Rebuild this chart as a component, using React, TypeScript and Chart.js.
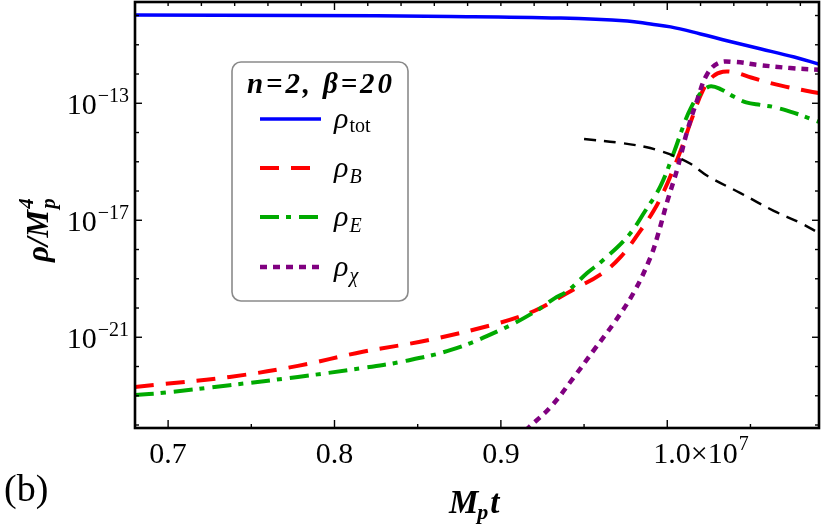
import React, { useEffect, useRef } from 'react';
import { Chart, registerables } from 'chart.js';

Chart.register(...registerables);

// ---- data (x in units of 10^7 M_p t) ----
const tTot = [0.680, 0.780, 0.870, 0.936, 0.976, 0.990, 1.002, 1.020, 1.0365, 1.0564, 1.0763, 1.091];
const rhoTot = [1.045e-10, 1.005e-10, 9.3e-11, 8.2e-11, 6.5e-11, 5.1e-11, 4.1e-11, 2.34e-11, 1.35e-11, 7.2e-12, 3.8e-12, 2.2e-12];

const tB = [0.680, 0.697, 0.737, 0.778, 0.817, 0.856, 0.900, 0.920, 0.932, 0.944, 0.960, 0.972, 0.984, 0.992, 0.998, 1.004, 1.0095, 1.0143, 1.0215, 1.0275, 1.0335, 1.0414, 1.0504, 1.0685, 1.091];
const rhoB = [2.0e-23, 2.5e-23, 4.4e-23, 1.05e-22, 3.2e-22, 7.9e-22, 3.2e-21, 7.9e-21, 1.8e-20, 4.4e-20, 1.41e-19, 5.6e-19, 4.5e-18, 2.2e-17, 1.0e-16, 6.3e-16, 4.0e-15, 2.5e-14, 2.8e-13, 8.3e-13, 1.2e-12, 1.1e-12, 7.6e-13, 4.0e-13, 2.24e-13];

const tE = [0.680, 0.697, 0.737, 0.778, 0.817, 0.840, 0.870, 0.900, 0.920, 0.932, 0.940, 0.952, 0.960, 0.976, 0.987, 0.996, 1.004, 1.011, 1.0143, 1.0174, 1.0222, 1.0263, 1.0323, 1.0402, 1.0474, 1.0564, 1.0642, 1.0763, 1.0913];
const rhoE = [1.07e-23, 1.26e-23, 2.3e-23, 4.4e-23, 8.9e-23, 1.45e-22, 3.7e-22, 1.8e-21, 7.2e-21, 2.1e-20, 3.8e-20, 1.6e-19, 3.7e-19, 2.7e-18, 2.2e-17, 1.5e-16, 2.1e-15, 2.7e-14, 7.1e-14, 1.41e-13, 2.9e-13, 3.8e-13, 3.0e-13, 1.66e-13, 1.07e-13, 8.7e-14, 7.4e-14, 4.7e-14, 2.3e-14];

const tChi = [0.909, 0.917, 0.930, 0.944, 0.956, 0.968, 0.980, 0.990, 0.9944, 1.000, 1.006, 1.012, 1.018, 1.024, 1.031, 1.040, 1.055, 1.074, 1.091];
const rhoChi = [3.1e-25, 8.5e-25, 4.2e-24, 4.4e-23, 3.7e-22, 3.1e-21, 3.5e-20, 5.6e-19, 3.2e-18, 4.4e-17, 5.6e-16, 1.12e-14, 1.3e-13, 1.0e-12, 2.4e-12, 2.6e-12, 2.04e-12, 1.6e-12, 1.4e-12];

const tRef = [0.950, 0.972, 0.987, 0.996, 1.004, 1.014, 1.0245, 1.044, 1.064, 1.080, 1.091];
const rhoRef = [6.0e-15, 4.4e-15, 3.2e-15, 2.3e-15, 1.6e-15, 8.5e-16, 3.2e-16, 8.5e-17, 2.1e-17, 8.1e-18, 3.7e-18];

// ---- axes ----
const xMin = 0.6801;
const xMax = 1.0912;
const yMin = 7.9e-25;
const yMax = 2.9e-10;
const xMajorTicks = [0.7, 0.8, 0.9, 1.0];
const xTickLabels = ['0.7', '0.8', '0.9', '1.0×10'];
const xMinorTicks = [0.75, 0.85, 0.95, 1.05];
const xTopTicks = [0.70, 0.72, 0.74, 0.76, 0.78, 0.80, 0.82, 0.84, 0.86, 0.88, 0.90, 0.92, 0.94, 0.96, 0.98, 1.00, 1.02, 1.04, 1.06, 1.08];
const xTopMajor = [0.8, 1.0];
const yMajorExp = [-13, -17, -21];
const yMinorExp = [-10, -11, -12, -14, -15, -16, -18, -19, -20, -22, -23, -24];

const legendTitle = 'n=2, β=20';
const seriesNames = ['tot', 'B', 'E', 'χ'];

const SERIF = '"Liberation Serif", "DejaVu Serif", serif';

const pts = (xs: number[], ys: number[]) => xs.map((x, i) => ({ x, y: ys[i] }));

const App: React.FC = () => {
  const ref = useRef<HTMLCanvasElement | null>(null);

  useEffect(() => {
    document.body.style.margin = '0';
    const canvas = ref.current;
    if (!canvas) return;

    const styles = [
      { color: '#0000ff', width: 3.5, dash: [] as number[] },
      { color: '#ff0000', width: 4, dash: [19, 12] },
      { color: '#00aa00', width: 4, dash: [19, 7, 5, 8] },
      { color: '#800080', width: 4.5, dash: [7, 6] },
    ];

    const decor = {
      id: 'decor',
      afterDraw(chart: any) {
        const { ctx, chartArea: a, scales } = chart;
        const x = scales.x;
        const y = scales.y;
        ctx.save();
        // frame
        ctx.strokeStyle = '#000';
        ctx.lineWidth = 2.6;
        ctx.setLineDash([]);
        ctx.strokeRect(a.left, a.top, a.right - a.left, a.bottom - a.top);
        ctx.lineWidth = 1.4;
        const line = (x1: number, y1: number, x2: number, y2: number) => {
          ctx.beginPath();
          ctx.moveTo(x1, y1);
          ctx.lineTo(x2, y2);
          ctx.stroke();
        };
        xMajorTicks.forEach((v) => { const p = x.getPixelForValue(v); line(p, a.bottom, p, a.bottom - 8); });
        xMinorTicks.forEach((v) => { const p = x.getPixelForValue(v); line(p, a.bottom, p, a.bottom - 4); });
        xTopTicks.forEach((v) => {
          const p = x.getPixelForValue(v);
          const major = xTopMajor.some((m) => Math.abs(m - v) < 1e-6);
          line(p, a.top, p, a.top + (major ? 8 : 4));
        });
        yMajorExp.forEach((e) => {
          const p = y.getPixelForValue(Math.pow(10, e));
          line(a.left, p, a.left + 7, p);
          line(a.right, p, a.right - 7, p);
        });
        yMinorExp.forEach((e) => {
          const p = y.getPixelForValue(Math.pow(10, e));
          line(a.left, p, a.left + 4, p);
          line(a.right, p, a.right - 4, p);
        });

        // x tick labels
        ctx.fillStyle = '#000';
        ctx.textBaseline = 'alphabetic';
        xMajorTicks.forEach((v, i) => {
          const p = x.getPixelForValue(v);
          const lab = xTickLabels[i];
          if (i === xMajorTicks.length - 1) {
            ctx.textAlign = 'left';
            ctx.font = `30px ${SERIF}`;
            const w = ctx.measureText(lab).width;
            const x0 = p - 14;
            ctx.fillText(lab, x0, 463);
            ctx.font = `20px ${SERIF}`;
            ctx.fillText('7', x0 + w + 1, 450);
          } else {
            ctx.textAlign = 'center';
            ctx.font = `30px ${SERIF}`;
            ctx.fillText(lab, p, 463);
          }
        });

        // y tick labels
        yMajorExp.forEach((e) => {
          const p = y.getPixelForValue(Math.pow(10, e));
          ctx.textAlign = 'left';
          ctx.font = `20px ${SERIF}`;
          const es = '−' + String(-e);
          const ew = ctx.measureText(es).width;
          ctx.font = `30px ${SERIF}`;
          const bw = ctx.measureText('10').width;
          const right = 129;
          const x0 = right - ew - bw - 1;
          ctx.fillText('10', x0, p + 11);
          ctx.font = `20px ${SERIF}`;
          ctx.fillText(es, x0 + bw + 1, p - 1);
        });

        // x axis title
        ctx.textAlign = 'left';
        ctx.font = `bold italic 33px ${SERIF}`;
        let cx = 449;
        ctx.fillText('M', cx, 513);
        cx += ctx.measureText('M').width;
        ctx.font = `bold italic 22px ${SERIF}`;
        ctx.fillText('p', cx - 1, 519);
        cx += ctx.measureText('p').width;
        ctx.font = `bold italic 33px ${SERIF}`;
        ctx.fillText('t', cx + 1, 513);

        // y axis title (rotated)
        ctx.save();
        ctx.translate(48, 262);
        ctx.rotate(-Math.PI / 2);
        ctx.font = `bold italic 31px ${SERIF}`;
        let ry = 0;
        ctx.fillText('ρ/M', ry, 0);
        ry += ctx.measureText('ρ/M').width;
        ctx.font = `bold italic 21px ${SERIF}`;
        ctx.fillText('p', ry + 1, 7);
        ctx.fillText('4', ry + 1, -15);
        ctx.restore();

        // panel label
        ctx.font = `38px ${SERIF}`;
        ctx.fillText('(b)', 4, 501);

        // legend box
        const bx = 232, by = 62, bw2 = 176, bh = 239, r = 9;
        ctx.beginPath();
        ctx.moveTo(bx + r, by);
        ctx.lineTo(bx + bw2 - r, by);
        ctx.arcTo(bx + bw2, by, bx + bw2, by + r, r);
        ctx.lineTo(bx + bw2, by + bh - r);
        ctx.arcTo(bx + bw2, by + bh, bx + bw2 - r, by + bh, r);
        ctx.lineTo(bx + r, by + bh);
        ctx.arcTo(bx, by + bh, bx, by + bh - r, r);
        ctx.lineTo(bx, by + r);
        ctx.arcTo(bx, by, bx + r, by, r);
        ctx.closePath();
        ctx.fillStyle = '#ffffff';
        ctx.fill();
        ctx.strokeStyle = '#8a8a8a';
        ctx.lineWidth = 1.6;
        ctx.stroke();

        ctx.fillStyle = '#000';
        ctx.font = `bold italic 29px ${SERIF}`;
        const tw = ctx.measureText(legendTitle).width;
        const extra = Math.max(0, (145 - tw) / (legendTitle.length - 1));
        (ctx as any).letterSpacing = `${extra.toFixed(2)}px`;
        ctx.fillText(legendTitle, 247, 93);
        (ctx as any).letterSpacing = '0px';

        const rows = [119, 168, 217, 267];
        styles.forEach((s, i) => {
          ctx.strokeStyle = s.color;
          ctx.lineWidth = s.width;
          ctx.setLineDash(s.dash);
          ctx.beginPath();
          ctx.moveTo(260, rows[i]);
          ctx.lineTo(321, rows[i]);
          ctx.stroke();
          ctx.setLineDash([]);
          ctx.fillStyle = '#000';
          ctx.font = `italic 30px ${SERIF}`;
          ctx.fillText('ρ', 334, rows[i] + 9);
          const rw = ctx.measureText('ρ').width;
          const sub = seriesNames[i];
          ctx.font = (i === 0 ? '' : 'italic ') + `20px ${SERIF}`;
          ctx.fillText(sub, 334 + rw + 1, rows[i] + (i === 0 ? 13 : 15));
        });

        ctx.restore();
      },
    };

    const chart = new Chart(canvas, {
      type: 'line',
      data: {
        datasets: [
          { label: 'ref', data: pts(tRef, rhoRef), borderColor: '#000000', borderWidth: 2.4, borderDash: [12, 8] },
          { label: 'rho_chi', data: pts(tChi, rhoChi), borderColor: styles[3].color, borderWidth: styles[3].width, borderDash: styles[3].dash },
          { label: 'rho_E', data: pts(tE, rhoE), borderColor: styles[2].color, borderWidth: styles[2].width, borderDash: styles[2].dash },
          { label: 'rho_B', data: pts(tB, rhoB), borderColor: styles[1].color, borderWidth: styles[1].width, borderDash: styles[1].dash },
          { label: 'rho_tot', data: pts(tTot, rhoTot), borderColor: styles[0].color, borderWidth: styles[0].width },
        ].map((d) => ({ ...d, fill: false, pointRadius: 0, tension: 0.4, clip: 0 })),
      },
      options: {
        responsive: false,
        animation: false,
        devicePixelRatio: 1,
        layout: { padding: { left: 0, right: 6, top: 2, bottom: 0 } },
        plugins: { legend: { display: false }, tooltip: { enabled: false } },
        scales: {
          x: {
            type: 'linear', min: xMin, max: xMax,
            ticks: { display: false }, grid: { display: false }, border: { display: false },
            afterFit: (s: any) => { s.height = 97; },
          },
          y: {
            type: 'logarithmic', min: yMin, max: yMax,
            ticks: { display: false }, grid: { display: false }, border: { display: false },
            afterFit: (s: any) => { s.width = 135; },
          },
        },
      },
      plugins: [decor],
    });
    return () => chart.destroy();
  }, []);

  return (
    <div style={{ position: 'absolute', left: 0, top: 0, width: 825, height: 525, background: '#fff' }}>
      <canvas ref={ref} width={825} height={525} style={{ display: 'block' }} />
    </div>
  );
};

export default App;
